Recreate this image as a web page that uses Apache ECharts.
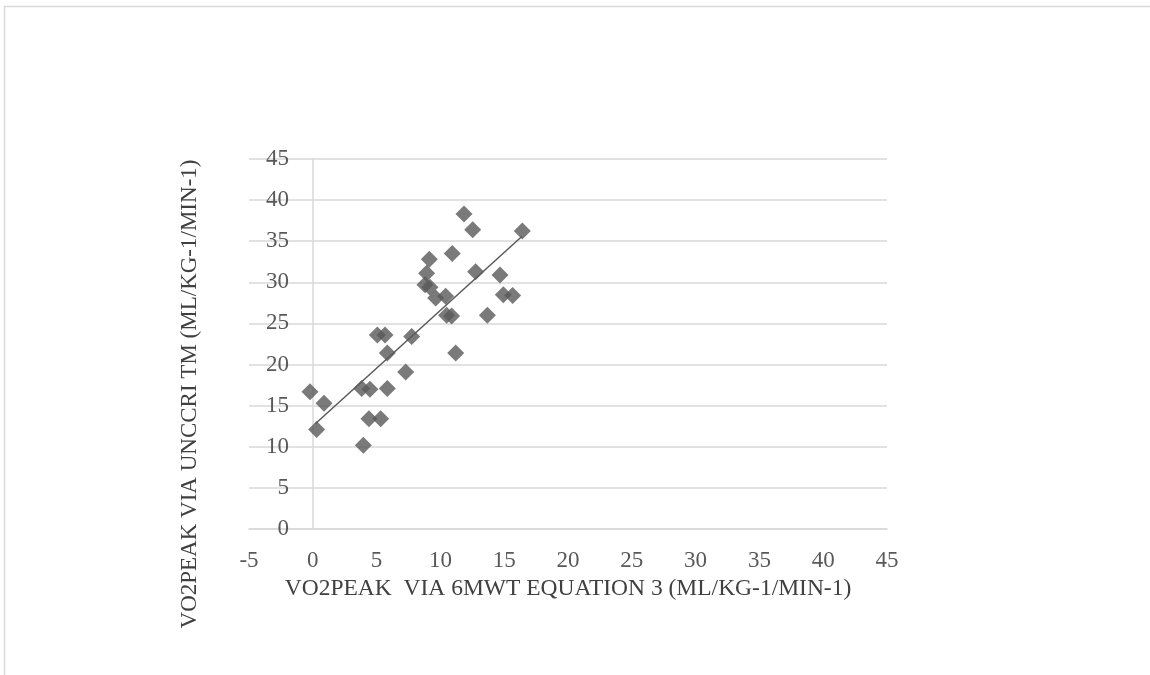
<!DOCTYPE html>
<html>
<head>
<meta charset="utf-8">
<script src="https://cdn.jsdelivr.net/npm/echarts@6/dist/echarts.min.js"></script>
<style>
html,body{margin:0;padding:0;background:#fff;}
#chart{width:1150px;height:675px;}
</style>
</head>
<body>
<div id="chart"></div>
<script>
// Data
const xValues = [11.85, 12.53, 16.42, 10.93, 9.13, 8.92, 12.76, 14.67, 8.79, 9.18, 9.63, 10.41, 14.93, 15.66, 10.49, 10.88, 13.68, 5.06, 5.66, 7.75, 5.84, 11.2, 7.28, 3.83, 4.48, 5.84, -0.22, 0.88, 4.40, 5.32, 0.3, 3.96];
const yValues = [38.3, 36.4, 36.25, 33.5, 32.8, 31.1, 31.3, 30.9, 29.7, 29.4, 28.1, 28.3, 28.5, 28.4, 26.0, 25.9, 26.0, 23.6, 23.6, 23.4, 21.4, 21.4, 19.1, 17.1, 17.0, 17.1, 16.7, 15.3, 13.4, 13.4, 12.1, 10.2];
const trendX = [0.2, 16.4];
const trendY = [12.8, 35.6];
const xTicks = { min: -5, max: 45, step: 5 };
const yTicks = { min: 0, max: 45, step: 5 };
const xTitle = 'VO2PEAK  VIA 6MWT EQUATION 3 (ML/KG-1/MIN-1)';
const yTitle = 'VO2PEAK VIA UNCCRI TM (ML/KG-1/MIN-1)';

const points = xValues.map((x, i) => [x, yValues[i]]);
const trend = trendX.map((x, i) => [x, trendY[i]]);

const chart = echarts.init(document.getElementById('chart'), null, { renderer: 'canvas' });
const font = '"Liberation Serif", serif';
chart.setOption({
  animation: false,
  backgroundColor: '#ffffff',
  graphic: [{
    type: 'rect',
    shape: { x: 4.5, y: 6.5, width: 1200, height: 700 },
    style: { fill: 'none', stroke: '#d9d9d9', lineWidth: 1.5 },
    silent: true
  }],
  grid: { left: 249, right: 263, top: 159, bottom: 146, containLabel: false },
  xAxis: {
    type: 'value',
    min: xTicks.min, max: xTicks.max, interval: xTicks.step,
    axisLine: { show: true, onZero: true, lineStyle: { color: '#d9d9d9', width: 1.5 } },
    axisTick: { show: false },
    splitLine: { show: false },
    axisLabel: { color: '#595959', fontFamily: font, fontSize: 23, margin: 20 },
    name: xTitle,
    nameLocation: 'middle',
    nameGap: 48,
    nameTextStyle: { color: '#404040', fontFamily: font, fontSize: 23.5 }
  },
  yAxis: {
    type: 'value',
    min: yTicks.min, max: yTicks.max, interval: yTicks.step,
    axisLine: { show: true, onZero: true, lineStyle: { color: '#d9d9d9', width: 1.5 } },
    axisTick: { show: false },
    splitLine: { show: true, lineStyle: { color: '#d9d9d9', width: 1.5 } },
    axisLabel: { color: '#595959', fontFamily: font, fontSize: 23, margin: -40 },
    name: yTitle,
    nameLocation: 'middle',
    nameGap: 48,
    nameTextStyle: { color: '#404040', fontFamily: font, fontSize: 23, padding: [0, 100, 0, 0] }
  },
  series: [
    {
      type: 'scatter',
      data: points,
      symbol: 'diamond',
      symbolSize: 17,
      itemStyle: { color: '#595959' },
      z: 3
    },
    {
      type: 'line',
      data: trend,
      showSymbol: false,
      symbol: 'none',
      lineStyle: { color: '#595959', width: 1.5 },
      z: 4
    }
  ]
});
</script>
</body>
</html>
